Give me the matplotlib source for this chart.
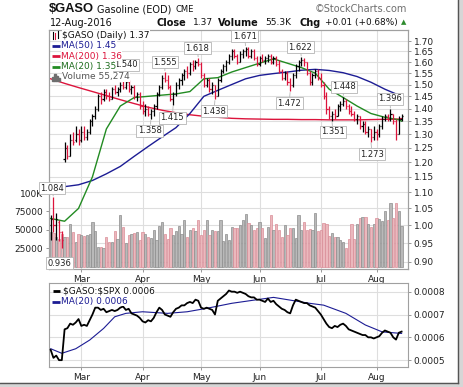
import pandas as pd
import matplotlib
matplotlib.use('Agg')
import matplotlib.pyplot as plt
import matplotlib.transforms as mtransforms
from matplotlib.lines import Line2D
from matplotlib.patches import Rectangle
from matplotlib.ticker import FixedLocator, NullLocator, FormatStrFormatter

# trading days shown on the chart (12-Feb-2016 .. 12-Aug-2016)
holidays = ['2016-02-15', '2016-03-25', '2016-05-30', '2016-07-04']
dates = pd.bdate_range('2016-02-12', '2016-08-12')
dates = dates[~dates.isin(pd.to_datetime(holidays))]

# daily OHLC of $GASO
opens = [1.00, 1.02, 1.00, 1.01, 0.98, 1.21, 1.25, 1.22, 1.28, 1.28,
         1.30, 1.28, 1.31, 1.29, 1.31, 1.35, 1.37, 1.40, 1.45, 1.44,
         1.47, 1.45, 1.44, 1.48, 1.47, 1.48, 1.50, 1.49, 1.51, 1.48,
         1.49, 1.45, 1.46, 1.41, 1.39, 1.40, 1.38, 1.39, 1.41, 1.46,
         1.49, 1.53, 1.52, 1.49, 1.44, 1.46, 1.50, 1.52, 1.54, 1.56,
         1.55, 1.59, 1.58, 1.60, 1.59, 1.54, 1.50, 1.52, 1.48, 1.50,
         1.45, 1.52, 1.56, 1.58, 1.60, 1.63, 1.65, 1.63, 1.60, 1.64,
         1.65, 1.66, 1.63, 1.65, 1.62, 1.59, 1.62, 1.61, 1.62, 1.63,
         1.60, 1.62, 1.59, 1.56, 1.53, 1.55, 1.51, 1.50, 1.54, 1.58,
         1.60, 1.61, 1.60, 1.55, 1.51, 1.54, 1.56, 1.53, 1.50, 1.45,
         1.40, 1.37, 1.38, 1.37, 1.41, 1.42, 1.43, 1.41, 1.39, 1.38,
         1.36, 1.37, 1.33, 1.34, 1.31, 1.32, 1.29, 1.31, 1.30, 1.33,
         1.36, 1.37, 1.36, 1.38, 1.35, 1.30, 1.36]
highs = [1.03, 1.084, 1.035, 1.015, 0.985, 1.27, 1.26, 1.30, 1.31, 1.33,
         1.32, 1.33, 1.33, 1.32, 1.36, 1.38, 1.41, 1.46, 1.47, 1.48,
         1.48, 1.47, 1.49, 1.50, 1.49, 1.51, 1.52, 1.54, 1.52, 1.50,
         1.50, 1.47, 1.47, 1.43, 1.42, 1.41, 1.40, 1.42, 1.47, 1.50,
         1.54, 1.555, 1.54, 1.50, 1.47, 1.51, 1.53, 1.55, 1.57, 1.58,
         1.60, 1.61, 1.61, 1.618, 1.60, 1.55, 1.53, 1.53, 1.51, 1.50,
         1.53, 1.57, 1.59, 1.61, 1.64, 1.66, 1.66, 1.64, 1.65, 1.66,
         1.671, 1.67, 1.66, 1.66, 1.63, 1.63, 1.64, 1.63, 1.64, 1.64,
         1.63, 1.63, 1.61, 1.57, 1.56, 1.56, 1.53, 1.55, 1.59, 1.61,
         1.622, 1.62, 1.60, 1.56, 1.55, 1.57, 1.57, 1.55, 1.51, 1.47,
         1.41, 1.39, 1.40, 1.42, 1.43, 1.448, 1.44, 1.42, 1.41, 1.39,
         1.38, 1.37, 1.35, 1.35, 1.33, 1.32, 1.33, 1.32, 1.34, 1.37,
         1.38, 1.38, 1.396, 1.38, 1.36, 1.37, 1.38]
lows = [0.96, 0.98, 0.96, 0.955, 0.936, 1.20, 1.21, 1.22, 1.26, 1.27,
        1.26, 1.27, 1.28, 1.28, 1.30, 1.33, 1.36, 1.39, 1.42, 1.43,
        1.44, 1.43, 1.44, 1.46, 1.45, 1.47, 1.48, 1.48, 1.47, 1.46,
        1.44, 1.43, 1.40, 1.38, 1.37, 1.37, 1.358, 1.37, 1.40, 1.45,
        1.48, 1.51, 1.48, 1.43, 1.415, 1.45, 1.48, 1.50, 1.52, 1.53,
        1.54, 1.56, 1.57, 1.58, 1.53, 1.49, 1.49, 1.47, 1.46, 1.438,
        1.45, 1.51, 1.55, 1.56, 1.59, 1.61, 1.62, 1.59, 1.60, 1.62,
        1.63, 1.62, 1.62, 1.61, 1.58, 1.58, 1.60, 1.59, 1.60, 1.59,
        1.59, 1.58, 1.55, 1.52, 1.52, 1.50, 1.472, 1.49, 1.53, 1.56,
        1.58, 1.58, 1.54, 1.50, 1.50, 1.53, 1.52, 1.49, 1.44, 1.38,
        1.36, 1.351, 1.36, 1.37, 1.39, 1.41, 1.40, 1.38, 1.37, 1.35,
        1.34, 1.32, 1.31, 1.30, 1.29, 1.273, 1.28, 1.28, 1.29, 1.32,
        1.35, 1.35, 1.35, 1.34, 1.28, 1.30, 1.35]
closes = [1.02, 1.00, 1.02, 0.98, 0.96, 1.25, 1.22, 1.28, 1.27, 1.30,
          1.28, 1.31, 1.29, 1.31, 1.35, 1.37, 1.40, 1.45, 1.44, 1.47,
          1.45, 1.44, 1.48, 1.47, 1.48, 1.50, 1.49, 1.51, 1.48, 1.49,
          1.45, 1.46, 1.41, 1.39, 1.40, 1.38, 1.39, 1.41, 1.46, 1.49,
          1.53, 1.52, 1.49, 1.44, 1.46, 1.50, 1.52, 1.54, 1.56, 1.55,
          1.59, 1.58, 1.60, 1.59, 1.54, 1.50, 1.52, 1.48, 1.50, 1.45,
          1.52, 1.56, 1.58, 1.60, 1.63, 1.65, 1.63, 1.60, 1.64, 1.65,
          1.66, 1.63, 1.65, 1.62, 1.59, 1.62, 1.61, 1.62, 1.63, 1.60,
          1.62, 1.59, 1.56, 1.53, 1.55, 1.51, 1.50, 1.54, 1.58, 1.60,
          1.61, 1.60, 1.55, 1.51, 1.54, 1.56, 1.53, 1.50, 1.45, 1.40,
          1.37, 1.38, 1.37, 1.41, 1.42, 1.43, 1.41, 1.39, 1.38, 1.36,
          1.37, 1.33, 1.34, 1.31, 1.32, 1.29, 1.31, 1.30, 1.33, 1.36,
          1.37, 1.36, 1.38, 1.35, 1.30, 1.36, 1.37]
volumes = [47000, 46000, 40000, 38000, 45000, 40000, 41000, 58000, 47000, 34000,
           44000, 43000, 42000, 43000, 45000, 61000, 48000, 27000, 27000, 26000,
           40000, 34000, 34000, 48000, 38000, 70000, 54000, 32000, 43000, 45000,
           46000, 47000, 36000, 47000, 44000, 41000, 39000, 50000, 36000, 55000,
           61000, 45000, 37000, 52000, 43000, 49000, 55000, 45000, 64000, 40000,
           50000, 52000, 48000, 63000, 43000, 50000, 64000, 43000, 50000, 49000,
           48000, 64000, 35000, 45000, 36000, 54000, 52000, 52000, 57000, 63000,
           72000, 60000, 56000, 50000, 53000, 61000, 52000, 38500, 54000, 70000,
           50000, 58000, 50000, 40000, 56000, 43000, 53000, 52000, 39000, 70000,
           50000, 61000, 50000, 51000, 50000, 73000, 48000, 50000, 59000, 58000,
           42000, 46000, 40000, 40000, 36000, 33000, 25000, 38000, 58000, 38000,
           58000, 66000, 68000, 68000, 58000, 54000, 58000, 66000, 65000, 62000,
           75000, 64000, 86000, 66000, 87000, 75000, 55274]

# moving averages at every 5th day
ma_idx = [0, 5, 10, 15, 20, 25, 30, 35, 40, 45, 50, 55, 60, 65, 70,
          75, 80, 85, 90, 95, 100, 105, 110, 115, 120, 125, 126]
ma50 = [1.117, 1.118, 1.124, 1.138, 1.16, 1.185, 1.22, 1.255, 1.29, 1.325,
        1.38, 1.45, 1.475, 1.50, 1.525, 1.54, 1.548, 1.555, 1.563, 1.567,
        1.562, 1.552, 1.535, 1.51, 1.48, 1.455, 1.45]
ma200 = [1.525, 1.505, 1.487, 1.47, 1.453, 1.436, 1.42, 1.405, 1.393, 1.383,
         1.375, 1.369, 1.365, 1.361, 1.359, 1.358, 1.357, 1.357, 1.356, 1.356,
         1.355, 1.355, 1.355, 1.356, 1.357, 1.358, 1.36]
ma20 = [1.02, 1.012, 1.05, 1.15, 1.32, 1.41, 1.445, 1.45, 1.455, 1.46,
        1.47, 1.525, 1.53, 1.555, 1.575, 1.595, 1.615, 1.595, 1.575, 1.55,
        1.48, 1.445, 1.41, 1.38, 1.365, 1.355, 1.35]

# $GASO:$SPX ratio (x 1e-4) and its MA(20)
ratio = [5.45, 5.1, 5.2, 5.0, 5.0, 6.35, 6.4, 6.6, 6.55, 6.65,
         6.8, 6.5, 6.55, 6.5, 6.75, 7.0, 7.3, 7.3, 7.2, 7.25,
         7.1, 7.15, 7.2, 7.15, 7.2, 7.3, 7.35, 7.2, 7.25, 7.05,
         7.0, 6.95, 6.85, 6.7, 6.65, 6.75, 6.7, 6.85, 7.1, 7.3,
         7.2, 7.0, 6.95, 6.9, 7.1, 7.25, 7.3, 7.4, 7.4, 7.5,
         7.55, 7.5, 7.65, 7.6, 7.3, 7.25, 7.3, 7.25, 7.2, 7.0,
         7.6, 7.7, 7.8, 7.9, 8.05, 8.0, 8.0, 7.95, 8.0, 7.95,
         7.9, 7.8, 7.75, 7.75, 7.65, 7.65, 7.6, 7.55, 7.7, 7.55,
         7.6, 7.45, 7.35, 7.25, 7.2, 7.1, 7.05, 7.4, 7.65, 7.6,
         7.55, 7.5, 7.5, 7.4, 7.35, 7.3, 7.15, 7.0, 6.8, 6.6,
         6.45, 6.4, 6.5, 6.45, 6.55, 6.6, 6.5, 6.35, 6.3, 6.25,
         6.2, 6.15, 6.1, 6.1, 6.0, 6.0, 5.95, 6.0, 6.05, 6.2,
         6.3, 6.25, 6.2, 6.0, 5.9, 6.2, 6.25]
ratio_ma_idx = [0, 4, 9, 14, 19, 23, 27, 33, 42, 49, 56, 65, 73, 80, 86,
                93, 98, 106, 113, 119, 126]
ratio_ma = [5.5, 5.3, 5.5, 5.88, 6.39, 6.9, 7.05, 7.12, 7.05, 7.12, 7.27,
            7.49, 7.63, 7.75, 7.63, 7.49, 7.41, 7.05, 6.54, 6.24, 6.17]

# labelled highs / lows: (day, price, text, dx px, dy px)
hl_labels = [(1, 1.084, '1.084', -1.5, 9), (4, 0.936, '0.936', -2, -15),
             (27, 1.540, '1.540', 0, 10.5), (36, 1.358, '1.358', -1, -11.5),
             (41, 1.555, '1.555', 0, 10), (44, 1.415, '1.415', -1, -13),
             (53, 1.618, '1.618', -1, 10), (59, 1.438, '1.438', -1, -12),
             (70, 1.671, '1.671', -1, 11), (86, 1.472, '1.472', -1, -12),
             (90, 1.622, '1.622', -1, 10), (101, 1.351, '1.351', 1, -11),
             (105, 1.448, '1.448', 1, 10), (115, 1.273, '1.273', 1, -12.5),
             (122, 1.396, '1.396', -0.5, 10.5)]

price_ticks = [0.90, 0.95, 1.00, 1.05, 1.10, 1.15, 1.20, 1.25, 1.30, 1.35,
               1.40, 1.45, 1.50, 1.55, 1.60, 1.65, 1.70]

RED = '#dc143c'
NAVY = '#1c1c94'
GREEN = '#228b22'
GRID = '#dedede'
SPINE = '#a0a0a0'

W, H = 464, 387
def fx(x):
    return x / W
def fy(y):
    return 1 - y / H

fig = plt.figure(figsize=(W / 100, H / 100), dpi=100)
fig.patch.set_facecolor('white')

ax_v = fig.add_axes([fx(49), fy(269), fx(408) - fx(49), fy(30) - fy(269)])
ax_p = ax_v.twinx()
ax_r = fig.add_axes([fx(49), fy(367), fx(408) - fx(49), fy(283) - fy(367)])

n = len(closes)
xs = list(range(n))
up = [i == 0 or closes[i] >= closes[i - 1] for i in range(n)]

# month ticks
month_pos = [i for i in range(n) if i == 0 or dates[i].month != dates[i - 1].month][1:]
month_lab = [dates[i].strftime('%b') for i in month_pos]

# volume
vol_colors = ['#b9b9b9' if u else '#ebb8bd' for u in up]
vol_edges = ['#8c8c8c' if u else '#d98c97' for u in up]
ax_v.bar(xs, volumes, width=0.8, color=vol_colors, edgecolor=vol_edges, linewidth=0.5, zorder=1)
ax_v.set_ylim(-3125, 321600)
ax_v.set_yticks([25000, 50000, 75000, 100000])
ax_v.set_yticklabels(['25000', '50000', '75000', '100K'])
ax_v.set_axisbelow(True)
ax_v.grid(axis='x', color=GRID, lw=0.8)

# price
ax_p.set_yscale('log')
ax_p.set_ylim(0.882, 1.755)
ax_p.yaxis.set_major_locator(FixedLocator(price_ticks))
ax_p.yaxis.set_minor_locator(NullLocator())
ax_p.yaxis.set_major_formatter(FormatStrFormatter('%.2f'))

# horizontal price grid drawn below the volume bars
blend = mtransforms.blended_transform_factory(ax_v.transAxes, ax_p.transData)
for t in price_ticks:
    ax_v.plot([0, 1], [t, t], transform=blend, color=GRID, lw=0.8, zorder=0.5)

bar_cols = ['black' if u else RED for u in up]
ax_p.vlines(xs, lows, highs, colors=bar_cols, lw=0.9, zorder=3)
ax_p.hlines(opens, [x - 0.4 for x in xs], xs, colors=bar_cols, lw=0.9, zorder=3)
ax_p.hlines(closes, xs, [x + 0.4 for x in xs], colors=bar_cols, lw=0.9, zorder=3)

ax_p.plot(ma_idx, ma200, color=RED, lw=1.0, zorder=2)
ax_p.plot(ma_idx, ma50, color=NAVY, lw=1.0, zorder=2)
ax_p.plot(ma_idx, ma20, color=GREEN, lw=1.0, zorder=2)

for i, p, txt, dx, dy in hl_labels:
    ax_p.annotate(txt, xy=(i, p), xytext=(dx * 0.72, dy * 0.72), textcoords='offset points',
                  ha='center', va='center', fontsize=6, color='#222222', zorder=4,
                  bbox=dict(boxstyle='square,pad=0.18', fc='white', ec='#b4b4b4', lw=0.6),
                  arrowprops=dict(arrowstyle='-', color='#b4b4b4', lw=0.6, shrinkA=0, shrinkB=1))

for ax in (ax_v, ax_p, ax_r):
    ax.set_xlim(-0.6, 128.3)
    for s in ax.spines.values():
        s.set_color(SPINE)
        s.set_linewidth(0.8)
    ax.tick_params(labelsize=6.5, length=2, width=0.6, color='#888888', pad=2, labelcolor='#222222')

ax_v.set_xticks(month_pos)
ax_v.set_xticklabels(month_lab)

# ratio panel
ax_r.plot(xs, [r * 1e-4 for r in ratio], color='black', lw=1.3, zorder=3)
ax_r.plot(ratio_ma_idx, [r * 1e-4 for r in ratio_ma], color=NAVY, lw=0.8, zorder=2)
ax_r.set_ylim(0.00047, 0.000838)
ax_r.yaxis.tick_right()
ax_r.set_yticks([0.0005, 0.0006, 0.0007, 0.0008])
ax_r.yaxis.set_major_formatter(FormatStrFormatter('%.4f'))
ax_r.set_xticks(month_pos)
ax_r.set_xticklabels(month_lab)
ax_r.set_axisbelow(True)
ax_r.grid(color=GRID, lw=0.8)

# header
fig.text(fx(49), fy(9.5), r'\$GASO', fontsize=9.3, fontweight='bold', family='Liberation Sans',
         va='center', color='#111111')
fig.text(fx(97), fy(9.5), 'Gasoline (EOD)', fontsize=7, va='center', color='#111111')
fig.text(fx(176), fy(10), 'CME', fontsize=6, va='center', color='#111111')
fig.text(fx(407), fy(9.5), '\u00a9StockCharts.com', fontsize=7, va='center', ha='right', color='#6e6e6e')
fig.text(fx(50), fy(22.5), '12-Aug-2016', fontsize=7, va='center', color='#111111')
fig.text(fx(157), fy(22.5), 'Close', fontsize=7, fontweight='bold', va='center', color='#111111')
fig.text(fx(193), fy(22.5), '1.37', fontsize=6.5, va='center', color='#111111')
fig.text(fx(218), fy(22.5), 'Volume', fontsize=7, fontweight='bold', va='center', color='#111111')
fig.text(fx(265), fy(22.5), '55.3K', fontsize=6.5, va='center', color='#111111')
fig.text(fx(300), fy(22.5), 'Chg', fontsize=7, fontweight='bold', va='center', color='#111111')
fig.text(fx(325), fy(22.5), '+0.01 (+0.68%)', fontsize=6.4, va='center', color='#111111')
fig.text(fx(401), fy(22.5), '\u25b2', fontsize=5, va='center', color='#2e8b2e')

# legend, main panel
def legend_line(x0, x1, y, color, lw=2):
    fig.add_artist(Line2D([fx(x0), fx(x1)], [fy(y), fy(y)], transform=fig.transFigure,
                          color=color, lw=lw, solid_capstyle='butt', zorder=5))

def legend_text(x, y, txt, color):
    fig.text(fx(x), fy(y), txt, fontsize=6.5, va='center', color=color, zorder=6,
             bbox=dict(boxstyle='square,pad=0.05', fc='white', ec='none'))

# small OHLC glyph
for x0, top, bot, col in [(53, 31.5, 38.5, 'black'), (55.5, 32.5, 39, RED), (58, 31, 37.5, 'black')]:
    fig.add_artist(Line2D([fx(x0), fx(x0)], [fy(top), fy(bot)], transform=fig.transFigure, color=col, lw=0.8, zorder=5))
legend_text(62, 35, r'\$GASO (Daily) 1.37', '#111111')
legend_line(52, 60, 45.5, NAVY)
legend_text(61, 45.5, 'MA(50) 1.45', NAVY)
legend_line(52, 60, 56, RED)
legend_text(61, 56, 'MA(200) 1.36', RED)
legend_line(52, 60, 66.5, GREEN)
legend_text(61, 66.5, 'MA(20) 1.35', '#1f6e1f')
for x0, h in [(53, 4), (55, 6), (57, 5), (59, 3)]:
    fig.add_artist(Rectangle((fx(x0 - 0.8), fy(80.5)), fx(1.6), fy(80.5 - h) - fy(80.5),
                             transform=fig.transFigure, color='#6e6e6e', zorder=5))
legend_text(62, 77, 'Volume 55,274', '#555555')

# legend, ratio panel
legend_line(53, 60, 290.7, 'black')
legend_text(63, 290.7, r'\$GASO:\$SPX 0.0006', '#111111')
legend_line(52, 60, 301.5, NAVY)
legend_text(61, 301.5, 'MA(20) 0.0006', NAVY)

# frame shadow
fig.add_artist(Rectangle((fx(458.5), fy(387)), fx(5.5), 1, transform=fig.transFigure, color='#d6d6d6', zorder=0))
fig.add_artist(Rectangle((0, 0), 1, fy(382.5), transform=fig.transFigure, color='#d6d6d6', zorder=0))
fig.add_artist(Line2D([fx(458.5), fx(458.5)], [fy(0), fy(382.5)], transform=fig.transFigure, color='#555555', lw=1))
fig.add_artist(Line2D([0, fx(458.5)], [fy(382.5), fy(382.5)], transform=fig.transFigure, color='#555555', lw=1))

fig.savefig('out.png', dpi=100)
